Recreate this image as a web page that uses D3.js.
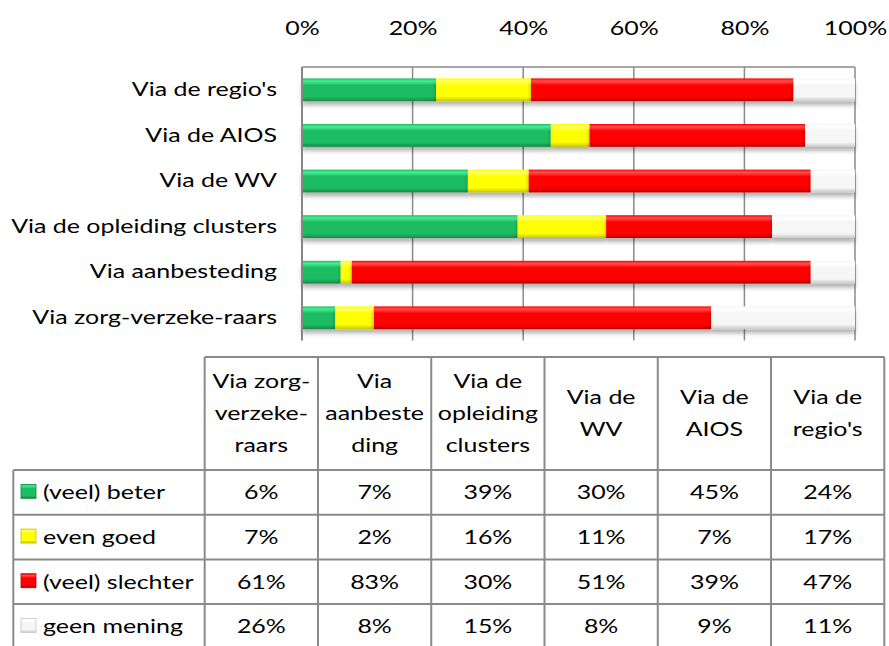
<!DOCTYPE html>
<html>
<head>
<meta charset="utf-8">
<script src="https://cdn.jsdelivr.net/npm/d3@7"></script>
<style>
  body { margin: 0; background: #fff; }
  svg { font-family: Lato, "Open Sans", sans-serif; }
</style>
</head>
<body>
<svg id="chart"></svg>
<script>
const svgWidth = 889;
const svgHeight = 646;

// data, in the sheet's order (first category is drawn at the bottom)
const categories = ["Via zorg-verzeke-raars", "Via aanbesteding", "Via de opleiding clusters", "Via de WV", "Via de AIOS", "Via de regio's"];
const headerLines = [["Via zorg-", "verzeke-", "raars"], ["Via", "aanbeste", "ding"], ["Via de", "opleiding", "clusters"], ["Via de", "WV"], ["Via de", "AIOS"], ["Via de", "regio's"]];
const seriesNames = ["(veel) beter", "even goed", "(veel) slechter", "geen mening"];
const beter = [6, 7, 39, 30, 45, 24];
const evenGoed = [7, 2, 16, 11, 7, 17];
const slechter = [61, 83, 30, 51, 39, 47];
const geenMening = [26, 8, 15, 8, 9, 11];
const xTicks = [0, 0.2, 0.4, 0.6, 0.8, 1];

const seriesValues = [beter, evenGoed, slechter, geenMening];
const keys = ["beter", "even", "slechter", "geen"];
const fills = [
  { top: "#45ee93", mid: "#1fbd62", bot: "#138a45" },
  { top: "#ffff66", mid: "#ffff00", bot: "#c4c400" },
  { top: "#ff5050", mid: "#ff0000", bot: "#b80000" },
  { top: "#ffffff", mid: "#f6f6f6", bot: "#c8c8c8" }
];

// the picture's text is wider than Lato, so stretch it a bit
const fontSize = 19.5;
const sx = 1.28;

const rows = categories.map((c, i) => {
  const r = { cat: c };
  keys.forEach((k, j) => r[k] = seriesValues[j][i]);
  return r;
});

const plot = { left: 302, right: 855, top: 67, bottom: 340.6 };

const svg = d3.select("#chart")
  .attr("width", svgWidth)
  .attr("height", svgHeight);

const defs = svg.append("defs");
fills.forEach((f, i) => {
  const g = defs.append("linearGradient")
    .attr("id", "grad" + i)
    .attr("x1", 0).attr("y1", 0).attr("x2", 0).attr("y2", 1);
  g.append("stop").attr("offset", "0").attr("stop-color", f.mid);
  g.append("stop").attr("offset", "0.12").attr("stop-color", f.top);
  g.append("stop").attr("offset", "0.3").attr("stop-color", f.mid);
  g.append("stop").attr("offset", "0.8").attr("stop-color", f.mid);
  g.append("stop").attr("offset", "1").attr("stop-color", f.bot);
});
const shadow = defs.append("filter").attr("id", "shadow")
  .attr("x", "-5%").attr("y", "-20%").attr("width", "110%").attr("height", "160%");
shadow.append("feDropShadow")
  .attr("dx", 0).attr("dy", 4).attr("stdDeviation", 2.2)
  .attr("flood-color", "#000").attr("flood-opacity", 0.3);

// text placed at (x, y) and stretched sideways
function stretchedText(parent, x, y, str, anchor) {
  return parent.append("text")
    .attr("transform", `translate(${x},${y}) scale(${sx},1)`)
    .attr("text-anchor", anchor || "start")
    .attr("dy", "0.35em")
    .attr("font-size", fontSize)
    .attr("fill", "#000")
    .text(str);
}

const x = d3.scaleLinear().domain([0, 1]).range([plot.left, plot.right]);
const y = d3.scaleBand()
  .domain(categories.slice().reverse())
  .range([plot.top, plot.bottom])
  .paddingInner(0.5)
  .paddingOuter(0.25);

const stack = d3.stack().keys(keys).offset(d3.stackOffsetExpand);
const stacked = stack(rows);

// gridlines
svg.append("g")
  .selectAll("line")
  .data(xTicks.slice(1))
  .join("line")
  .attr("x1", d => x(d)).attr("x2", d => x(d))
  .attr("y1", plot.top).attr("y2", plot.bottom)
  .attr("stroke", "#8a8a8a")
  .attr("stroke-width", 1.5);

// top border
svg.append("line")
  .attr("x1", plot.left).attr("x2", plot.right)
  .attr("y1", plot.top).attr("y2", plot.top)
  .attr("stroke", "#8a8a8a").attr("stroke-width", 1.5);

// bars
svg.append("g")
  .selectAll("g")
  .data(stacked)
  .join("g")
  .attr("fill", (d, i) => `url(#grad${i})`)
  .attr("filter", "url(#shadow)")
  .selectAll("rect")
  .data(d => d)
  .join("rect")
  .attr("x", d => x(d[0]))
  .attr("y", d => y(d.data.cat))
  .attr("width", d => Math.max(0, x(d[1]) - x(d[0])))
  .attr("height", y.bandwidth());

// left axis line
svg.append("line")
  .attr("x1", plot.left).attr("x2", plot.left)
  .attr("y1", plot.top).attr("y2", plot.bottom)
  .attr("stroke", "#868686").attr("stroke-width", 2);

// top axis labels
const xAxis = d3.axisTop(x)
  .tickValues(xTicks)
  .tickSize(0)
  .tickPadding(0)
  .tickFormat(d3.format(".0%"));
const xg = svg.append("g")
  .attr("transform", "translate(0,28)")
  .call(xAxis);
xg.select(".domain").remove();
xg.selectAll("text")
  .attr("font-family", "Lato, sans-serif")
  .attr("font-size", fontSize)
  .attr("fill", "#000")
  .attr("y", 0)
  .attr("dy", "0.35em")
  .attr("transform", `scale(${sx},1)`);

// category labels
const labelPad = 25;
const yAxis = d3.axisLeft(y).tickSize(0).tickPadding(labelPad);
const yg = svg.append("g")
  .attr("transform", `translate(${plot.left},0)`)
  .call(yAxis);
yg.select(".domain").remove();
yg.selectAll("text")
  .attr("font-family", "Lato, sans-serif")
  .attr("font-size", fontSize)
  .attr("fill", "#000")
  .attr("x", -labelPad / sx)
  .attr("transform", `scale(${sx},1)`);

// data table
const table = { left: 13.3, colLeft: 204.7, right: 884.3, top: 357, headBottom: 470, rowH: 44.7 };
const col = d3.scaleBand().domain(categories).range([table.colLeft, table.right]);
const rowY = d3.scaleBand().domain(seriesNames).range([table.headBottom, table.headBottom + table.rowH * seriesNames.length]);
const tableBottom = rowY.range()[1];
const lineColor = "#8a8a8a";
const tg = svg.append("g");

// horizontal lines
tg.append("line")
  .attr("x1", table.colLeft).attr("x2", table.right)
  .attr("y1", table.top).attr("y2", table.top)
  .attr("stroke", lineColor).attr("stroke-width", 2);
tg.selectAll(".hline")
  .data(seriesNames.map(s => rowY(s)).concat([tableBottom]))
  .join("line")
  .attr("class", "hline")
  .attr("x1", table.left).attr("x2", table.right)
  .attr("y1", d => d).attr("y2", d => d)
  .attr("stroke", lineColor).attr("stroke-width", 2);

// vertical lines
const colEdges = categories.map(c => col(c)).concat([table.right]);
tg.selectAll(".vline")
  .data(colEdges)
  .join("line")
  .attr("class", "vline")
  .attr("x1", d => d).attr("x2", d => d)
  .attr("y1", table.top).attr("y2", tableBottom)
  .attr("stroke", lineColor).attr("stroke-width", 2);
tg.append("line")
  .attr("x1", table.left).attr("x2", table.left)
  .attr("y1", table.headBottom).attr("y2", tableBottom)
  .attr("stroke", lineColor).attr("stroke-width", 2);

// header text
const headMid = (table.top + table.headBottom) / 2;
const lineH = 32;
categories.forEach((c, i) => {
  const lines = headerLines[i];
  lines.forEach((ln, k) => {
    stretchedText(tg, col(c) + col.bandwidth() / 2,
      headMid + (k - (lines.length - 1) / 2) * lineH, ln, "middle");
  });
});

// legend keys, names and values
seriesNames.forEach((s, j) => {
  const cy = rowY(s) + rowY.bandwidth() / 2;
  tg.append("rect")
    .attr("x", 21).attr("y", cy - 8)
    .attr("width", 15).attr("height", 14)
    .attr("fill", `url(#grad${j})`)
    .attr("stroke", fills[j].bot)
    .attr("stroke-width", 0.8);
  stretchedText(tg, 43, cy, s, "start");
  categories.forEach((c, i) => {
    stretchedText(tg, col(c) + col.bandwidth() / 2, cy, seriesValues[j][i] + "%", "middle");
  });
});
</script>
</body>
</html>
